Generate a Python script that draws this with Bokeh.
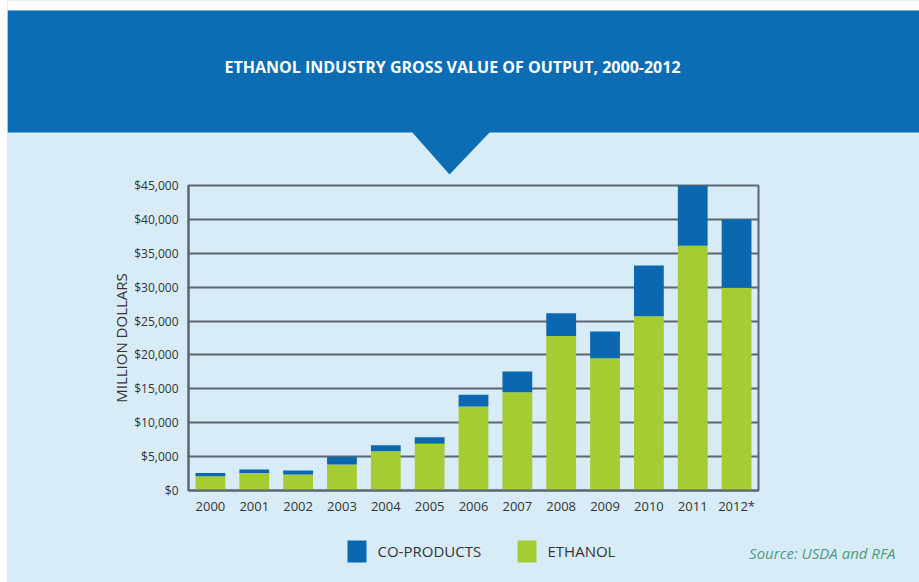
from bokeh.plotting import figure
from bokeh.models import Range1d, NumeralTickFormatter, Spacer, ColumnDataSource, FixedTicker
from bokeh.layouts import column, row
from bokeh.embed import file_html
from bokeh.resources import INLINE
from bokeh.core.properties import value

# ---- data (million dollars) ----
years = ["2000", "2001", "2002", "2003", "2004", "2005", "2006",
         "2007", "2008", "2009", "2010", "2011", "2012*"]
ethanol = [2100, 2600, 2350, 3820, 5780, 6900, 12400, 14500, 22800, 19500, 25700, 36100, 29900]
coproducts = [500, 490, 590, 1130, 880, 970, 1720, 3060, 3360, 3960, 7500, 8900, 10080]
y_ticks = [0, 5000, 10000, 15000, 20000, 25000, 30000, 35000, 40000, 45000]

title_text = "ETHANOL INDUSTRY GROSS VALUE OF OUTPUT, 2000-2012"
series_names = ["CO-PRODUCTS", "ETHANOL"]
source_text = "Source: USDA and RFA"

# ---- styles ----
FONT = "Open Sans"
BANNER = "#0c6db4"
BG = "#d8ecf7"
BLUE = "#0b68b0"
GREEN = "#a6cc34"
GRID = "#5b6770"
TXT = "#333333"
SRC = "#4e9a80"
OFF = 7            # white strip on the left
W = 919 - OFF


def deco_fig(height, y_top):
    f = figure(frame_width=W, frame_height=height, min_border=0,
               min_border_left=0, min_border_right=0, min_border_top=0, min_border_bottom=0,
               x_range=Range1d(OFF, 919), y_range=Range1d(y_top + height, y_top),
               toolbar_location=None, output_backend="svg",
               x_axis_location=None, y_axis_location=None)
    f.grid.visible = False
    f.outline_line_color = None
    f.background_fill_color = BG
    f.border_fill_color = BG
    return f


# ---- top banner (page y 0..175) ----
top = deco_fig(175, 0)
top.quad(left=[OFF], right=[919], top=[0], bottom=[10], color="white", line_color=None)
top.quad(left=[OFF], right=[919], top=[10], bottom=[132], color=BANNER, line_color=None)
top.patch([411, 490, 449], [131, 131, 174], color=BANNER, line_color=None)
top.text(x=[452], y=[66], text=[title_text], text_align="center", text_baseline="middle",
         text_color="white", text_font=value(FONT), text_font_style="bold",
         text_font_size="16px")

# ---- chart (page y 175..540) ----
FL, FT, FW, FH = 188, 185, 570, 305
src = ColumnDataSource(dict(year=years, ethanol=ethanol, coproducts=coproducts))
p = figure(x_range=years, y_range=Range1d(0, 45000), frame_width=FW, frame_height=FH,
           min_border_left=FL - OFF, min_border_right=919 - FL - FW, min_border_top=FT - 175,
           min_border_bottom=540 - FT - FH, toolbar_location=None, output_backend="svg")
p.background_fill_color = BG
p.border_fill_color = BG
p.outline_line_color = GRID
p.outline_line_width = 2
p.vbar_stack(["ethanol", "coproducts"], x="year", width=0.68, color=[GREEN, BLUE],
             line_color=None, source=src)
p.xgrid.visible = False
p.ygrid.grid_line_color = GRID
p.ygrid.grid_line_width = 2
p.yaxis.ticker = FixedTicker(ticks=y_ticks)
p.yaxis.formatter = NumeralTickFormatter(format="$0,0")
p.yaxis.axis_label = "MILLION DOLLARS"
p.yaxis.axis_label_text_font = FONT
p.yaxis.axis_label_text_font_style = "normal"
p.yaxis.axis_label_text_font_size = "15px"
p.yaxis.axis_label_text_color = TXT
p.yaxis.axis_label_standoff = 0
for ax in (p.xaxis[0], p.yaxis[0]):
    ax.major_tick_line_color = None
    ax.minor_tick_line_color = None
    ax.axis_line_color = GRID
    ax.axis_line_width = 2
    ax.major_label_text_font = FONT
    ax.major_label_text_color = TXT
p.yaxis.major_label_text_font_size = "12px"
p.yaxis.major_label_standoff = 4
p.xaxis.major_label_text_font_size = "13px"
p.xaxis.major_label_standoff = 0

# ---- bottom legend (page y 540..582) ----
bot = deco_fig(42, 540)
bot.quad(left=[347, 517], right=[366, 536], top=[538, 538], bottom=[562, 562],
         color=[BLUE, GREEN], line_color=None)
bot.text(x=[377, 547], y=[550, 550], text=series_names, text_baseline="middle",
         text_color=TXT, text_font=value(FONT), text_font_size="15px")
bot.text(x=[895], y=[552], text=[source_text], text_align="right", text_baseline="middle",
         text_color=SRC, text_font=value(FONT), text_font_style="italic", text_font_size="15px")

inner = column(row(top), row(p), row(bot), spacing=0, styles={"background-color": BG})
layout = row(Spacer(width=OFF, height=582), inner, spacing=0)
open("out.html", "w").write(file_html(layout, INLINE))
